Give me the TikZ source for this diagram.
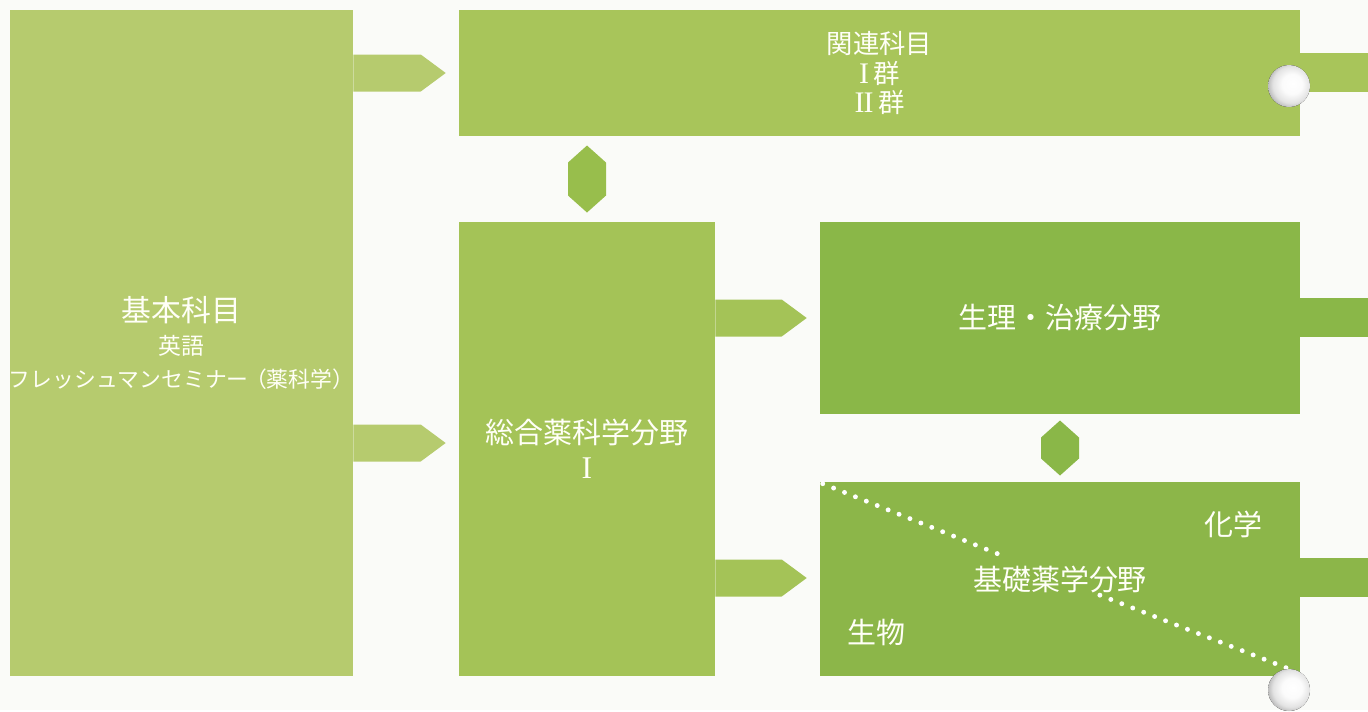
\documentclass[tikz,border=0pt]{standalone}
\usepackage{fontspec}
\newfontfamily\jp{Noto Sans CJK JP}
\newfontfamily\numfont{Liberation Serif}
\usetikzlibrary{calc, positioning}

\definecolor{paper}{RGB}{250,251,248}
\definecolor{kihoncol}{RGB}{182,203,110}
\definecolor{kanrencol}{RGB}{168,197,90}
\definecolor{sogocol}{RGB}{164,195,87}
\definecolor{seiricol}{RGB}{138,183,72}
\definecolor{kisocol}{RGB}{140,182,73}
\definecolor{hexcol}{RGB}{152,190,76}

% punched hole in the sheet
\pgfdeclareradialshading{hole}{\pgfpoint{5bp}{3bp}}{%
  color(0bp)=(white); color(12bp)=(white!97!gray); color(22bp)=(gray!22);
  color(27bp)=(gray!50); color(50bp)=(gray!50)}

\tikzset{
  box/.style={rectangle, inner sep=0pt, text=white!97!yellow, align=center,
    font=\jp\fontsize{16.5}{20}\selectfont},
  lab/.style={inner sep=0pt, text=white!97!yellow, font=\jp\fontsize{16.5}{20}\selectfont},
  dots/.style={white, line width=2.8pt, line cap=round, dash pattern=on 0pt off 0.235cm},
  hole/.style={shading=hole}
}

% tab arrow: colour, from node, to node, y
\newcommand{\tabarrow}[4]{%
  \fill[#1] ($(#2.east |- 0,#4)+(0,-18.5)$)
    -- ($(#3.west |- 0,#4)+(-38,-18.5)$)
    -- ($(#3.west |- 0,#4)+(-13,0)$)
    -- ($(#3.west |- 0,#4)+(-38,18.5)$)
    -- ($(#2.east |- 0,#4)+(0,18.5)$) -- cycle;}

% hexagon between two stacked blocks: colour, upper node, lower node, half height
\newcommand{\hexlink}[4]{%
  \coordinate (hx) at ($(#3.north |- #2.south)!0.5!(#3.north)$);
  \fill[#1] (hx) +(0,-#4) -- +(19,-#4+17) -- +(19,#4-17) -- +(0,#4)
    -- +(-19,#4-17) -- +(-19,-#4+17) -- cycle;}

\begin{document}
\begin{tikzpicture}[x=0.02cm, y=-0.02cm]
  % sheet
  \fill[paper] (0,0) rectangle (1368,710);

  % blocks
  \node[box, fill=kihoncol, minimum width=6.86cm, minimum height=13.32cm,
    font=\jp\fontsize{12.4}{19}\selectfont] (kihon) at (181.5,343)
    {{\fontsize{17}{19}\selectfont 基本科目}\\{\fontsize{13}{19}\selectfont 英語}\\
     \makebox[0pt]{フレッシュマンセミナー\kern-2pt（薬科学）}};
  \node[box, fill=kanrencol, minimum width=16.82cm, minimum height=2.52cm,
    font=\jp\fontsize{15}{17}\selectfont] (kanren) at (879.5,73)
    {関連科目\\{\numfont\fontsize{17}{17}\selectfont I}\,群\\{\numfont\fontsize{17}{17}\selectfont I\kern-0.5ptI}\,群};
  \node[box, fill=sogocol, minimum width=5.12cm, minimum height=9.08cm] (sogo) at (587,449)
    {総合薬科学分野\\{\numfont\fontsize{18}{20}\selectfont I}};
  \node[box, fill=seiricol, minimum width=9.6cm, minimum height=3.84cm] (seiri) at (1060,318)
    {生理・治療分野};
  \node[box, fill=kisocol, minimum width=9.6cm, minimum height=3.88cm] (kiso) at (1060,579)
    {基礎薬学分野};

  % tabs running off the right edge
  \fill[kanrencol] (kanren.east |- 0,53) rectangle (1368,92);
  \fill[seiricol] (seiri.east |- 0,298) rectangle (1368,337);
  \fill[kisocol] (kiso.east |- 0,558) rectangle (1368,597);

  % arrows
  \tabarrow{kihoncol}{kihon}{kanren}{73}
  \tabarrow{kihoncol}{kihon}{sogo}{443}
  \tabarrow{sogocol}{sogo}{seiri}{318}
  \tabarrow{sogocol}{sogo}{kiso}{578}

  % links
  \hexlink{hexcol}{kanren}{sogo}{33.5}
  \hexlink{seiricol}{seiri}{kiso}{27.5}

  % split of the basic field
  \draw[dots] ($(kiso.north west)+(3,2)$) -- ($(kiso.north west)!0.375!(kiso.south east)$);
  \draw[dots] ($(kiso.north west)!0.583!(kiso.south east)$) -- ($(kiso.south east)+(-5,-5)$);
  \node[lab] (chem) at ($(kiso.north east)+(-67,43)$) {化学};
  \node[lab] (bio) at ($(kiso.south west)+(57,-44)$) {生物};

  % holes
  \fill[hole] (1289,86) circle (21);
  \fill[hole] (1289,690) circle (21);
\end{tikzpicture}
\end{document}
